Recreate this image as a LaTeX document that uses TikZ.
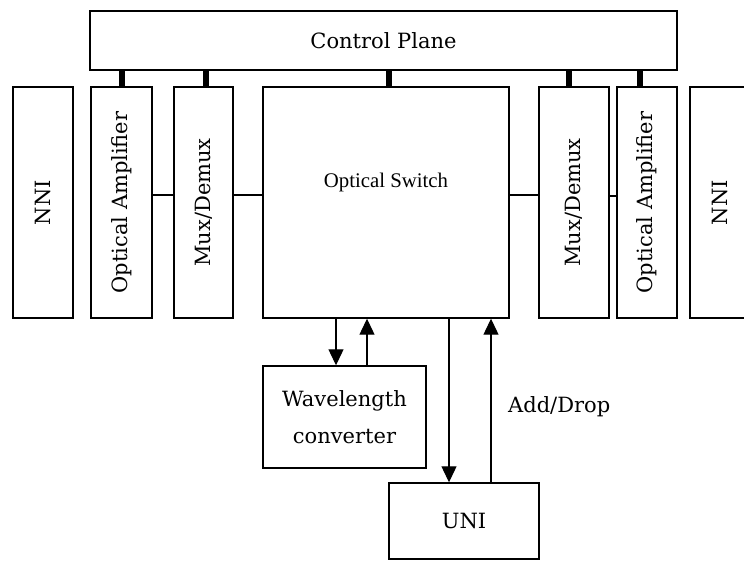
\documentclass[tikz,border=0pt]{standalone}
\usepackage{fontspec}
\setmainfont{DejaVu Serif}
\newfontfamily\switchfont{Liberation Serif}
\usepackage{graphicx}
\usetikzlibrary{arrows.meta,positioning,calc}

\begin{document}
\begin{tikzpicture}[
  x=1pt,y=-1pt,
  box/.style={draw,line width=1.4pt,inner sep=0pt,font=\fontsize{21}{25}\selectfont},
  stub/.style={line width=6pt},
  link/.style={line width=1.2pt},
  arr/.style={line width=1.2pt,-{Triangle[length=16pt,width=15pt]}},
  lbl/.style={font=\fontsize{21}{25}\selectfont,inner sep=0pt}]
  \useasboundingbox (0,0) rectangle (744,561);
  \node[box,minimum width=587pt,minimum height=59pt](cp) at(383.5,40.5){Control Plane};
  \node[box,minimum width=60pt,minimum height=231pt](nniL) at(43,202.5){\rotatebox{90}{NNI}};
  \node[box,minimum width=61pt,minimum height=231pt](ampL) at(121.5,202.5){\rotatebox{90}{Optical Amplifier}};
  \node[box,minimum width=59pt,minimum height=231pt](muxL) at(203.5,202.5){\rotatebox{90}{Mux/Demux}};
  \node[box,minimum width=246pt,minimum height=231pt](sw) at(386,202.5){};
  \node[lbl,font=\switchfont\fontsize{20.8}{24}\selectfont](swtext) at(386,182){Optical Switch};
  \node[box,minimum width=70pt,minimum height=231pt](muxR) at(574,202.5){\rotatebox{90}{Mux/Demux}};
  \node[box,minimum width=60pt,minimum height=231pt](ampR) at(647,202.5){\rotatebox{90}{Optical Amplifier}};
  \node[box,minimum width=60pt,minimum height=231pt](nniR) at(720,202.5){\rotatebox{90}{NNI}};
  \node[box,align=center,minimum width=163pt,minimum height=102pt,font=\fontsize{21}{37}\selectfont](wc) at(344.5,417){Wavelength\\converter};
  \node[box,minimum width=150pt,minimum height=76pt](uni) at(464,521){UNI};
  \node[lbl,anchor=west](adddrop) at(508,407){Add/Drop};
  \draw[stub](ampL.north)--(ampL.north |- cp.south);
  \draw[stub]([xshift=2.5pt]muxL.north)--([xshift=2.5pt]muxL.north |- cp.south);
  \draw[stub]([xshift=3pt]sw.north)--([xshift=3pt]sw.north |- cp.south);
  \draw[stub]([xshift=-5pt]muxR.north)--([xshift=-5pt]muxR.north |- cp.south);
  \draw[stub]([xshift=-7pt]ampR.north)--([xshift=-7pt]ampR.north |- cp.south);
  \draw[link]([yshift=7.5pt]ampL.east)--([yshift=7.5pt]muxL.west);
  \draw[link]([yshift=7.5pt]muxL.east)--([yshift=7.5pt]sw.west);
  \draw[link]([yshift=7.5pt]sw.east)--([yshift=7.5pt]muxR.west);
  \draw[link]([yshift=6.5pt]muxR.east)--([yshift=6.5pt]ampR.west);
  \draw[arr]([xshift=-8.5pt]wc.north |- sw.south)--([xshift=-8.5pt]wc.north);
  \draw[arr]([xshift=22.5pt]wc.north)--([xshift=22.5pt]wc.north |- sw.south);
  \draw[arr]([xshift=-15pt]uni.north |- sw.south)--([xshift=-15pt]uni.north);
  \draw[arr]([xshift=27pt]uni.north)--([xshift=27pt]uni.north |- sw.south);
\end{tikzpicture}
\end{document}
